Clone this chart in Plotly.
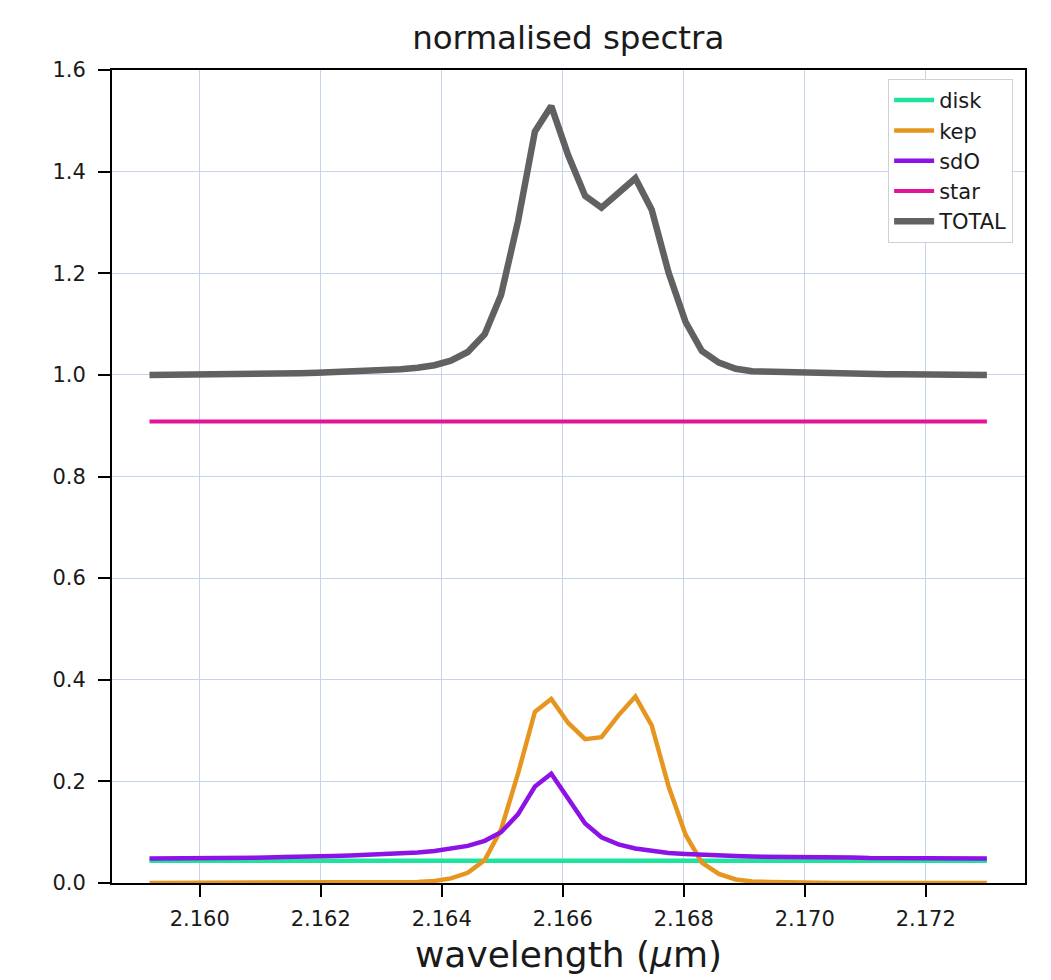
import plotly.graph_objects as go

wavelength = [
    2.15917, 2.15945, 2.15972, 2.16000, 2.16028, 2.16055, 2.16083, 2.16111, 2.16138, 2.16166,
    2.16194, 2.16221, 2.16249, 2.16277, 2.16305, 2.16332, 2.16360, 2.16388, 2.16415, 2.16443,
    2.16471, 2.16498, 2.16526, 2.16554, 2.16581, 2.16609, 2.16637, 2.16664, 2.16692, 2.16720,
    2.16747, 2.16775, 2.16803, 2.16830, 2.16858, 2.16886, 2.16913, 2.16941, 2.16969, 2.16996,
    2.17024, 2.17052, 2.17079, 2.17107, 2.17135, 2.17162, 2.17190, 2.17218, 2.17245, 2.17273,
    2.17301,
]

disk = [0.044] * 51

kep = [
    0.000, 0.000, 0.000, 0.000, 0.000, 0.000, 0.000, 0.000, 0.000, 0.000,
    0.000, 0.000, 0.000, 0.000, 0.001, 0.001, 0.002, 0.004, 0.009, 0.020,
    0.045, 0.105, 0.215, 0.337, 0.362, 0.315, 0.283, 0.287, 0.330, 0.367,
    0.310, 0.190, 0.095, 0.040, 0.018, 0.007, 0.003, 0.002, 0.001, 0.000,
    0.000, 0.000, 0.000, 0.000, 0.000, 0.000, 0.000, 0.000, 0.000, 0.000,
    0.000,
]

sdO = [
    0.048, 0.048, 0.048, 0.049, 0.049, 0.049, 0.050, 0.050, 0.051, 0.051,
    0.052, 0.053, 0.054, 0.055, 0.056, 0.058, 0.060, 0.063, 0.067, 0.073,
    0.083, 0.100, 0.135, 0.190, 0.215, 0.165, 0.117, 0.090, 0.076, 0.068,
    0.063, 0.059, 0.057, 0.055, 0.054, 0.053, 0.052, 0.052, 0.051, 0.051,
    0.050, 0.050, 0.050, 0.049, 0.049, 0.049, 0.049, 0.048, 0.048, 0.048,
    0.048,
]

star = [0.908] * 51

total = [
    1.000, 1.000, 1.000, 1.001, 1.001, 1.001, 1.002, 1.002, 1.003, 1.003,
    1.004, 1.005, 1.006, 1.007, 1.009, 1.011, 1.014, 1.019, 1.028, 1.045,
    1.080, 1.157, 1.302, 1.479, 1.529, 1.432, 1.352, 1.329, 1.358, 1.387,
    1.325, 1.201, 1.104, 1.047, 1.024, 1.012, 1.007, 1.006, 1.004, 1.003,
    1.002, 1.002, 1.002, 1.001, 1.001, 1.001, 1.001, 1.000, 1.000, 1.000,
    1.000,
]

series = [
    ("disk", disk, "#1ee39d", 4.5),
    ("kep", kep, "#e6961f", 4.5),
    ("sdO", sdO, "#8c12e6", 4.5),
    ("star", star, "#e3139a", 4),
    ("TOTAL", total, "#616161", 6.5),
]

fig = go.Figure()
for name, vals, color, w in series:
    fig.add_trace(go.Scatter(x=wavelength, y=vals, mode="lines", name=name,
                             line=dict(color=color, width=w)))

font = "DejaVu Sans, Arial, sans-serif"
fig.update_layout(
    width=1051, height=980,
    margin=dict(l=112, r=26, t=70, b=97),
    paper_bgcolor="white", plot_bgcolor="white",
    font=dict(family=font, color="#1a1a1a", size=21),
    title=dict(text="normalised spectra", x=0.5407, xanchor="center", y=0.962, yanchor="middle",
               font=dict(size=32.5, family=font, color="#1a1a1a")),
    showlegend=True,
    legend=dict(x=0.987, xanchor="right", y=0.989, yanchor="top",
                bgcolor="white", bordercolor="#d0d0d0", borderwidth=1,
                font=dict(size=21, family=font, color="#1a1a1a"),
                itemwidth=40),
)
fig.update_xaxes(
    range=[2.15855, 2.17364], tickmode="array", automargin=False,
    tickvals=[2.160, 2.162, 2.164, 2.166, 2.168, 2.170, 2.172],
    ticktext=["2.160", "2.162", "2.164", "2.166", "2.168", "2.170", "2.172"],
    showline=True, linecolor="black", linewidth=2, mirror=True,
    ticks="outside", ticklen=12, tickwidth=2, tickcolor="black",
    ticklabelstandoff=4,
    showgrid=True, gridcolor="#c6d3ec", gridwidth=1.2, zeroline=False,
    tickfont=dict(size=21),
    title=dict(text="wavelength (<i>μ</i>m)", font=dict(size=36, family=font, color="#1a1a1a"), standoff=12),
)
fig.update_yaxes(
    range=[0, 1.6], tickmode="array", automargin=False,
    tickvals=[0, 0.2, 0.4, 0.6, 0.8, 1.0, 1.2, 1.4, 1.6],
    ticktext=["0.0", "0.2", "0.4", "0.6", "0.8", "1.0", "1.2", "1.4", "1.6"],
    showline=True, linecolor="black", linewidth=2, mirror=True,
    ticks="outside", ticklen=12, tickwidth=2, tickcolor="black",
    ticklabelstandoff=8,
    showgrid=True, gridcolor="#c6d3ec", gridwidth=1.2, zeroline=False,
    tickfont=dict(size=21),
)

fig.write_html("out.html")
